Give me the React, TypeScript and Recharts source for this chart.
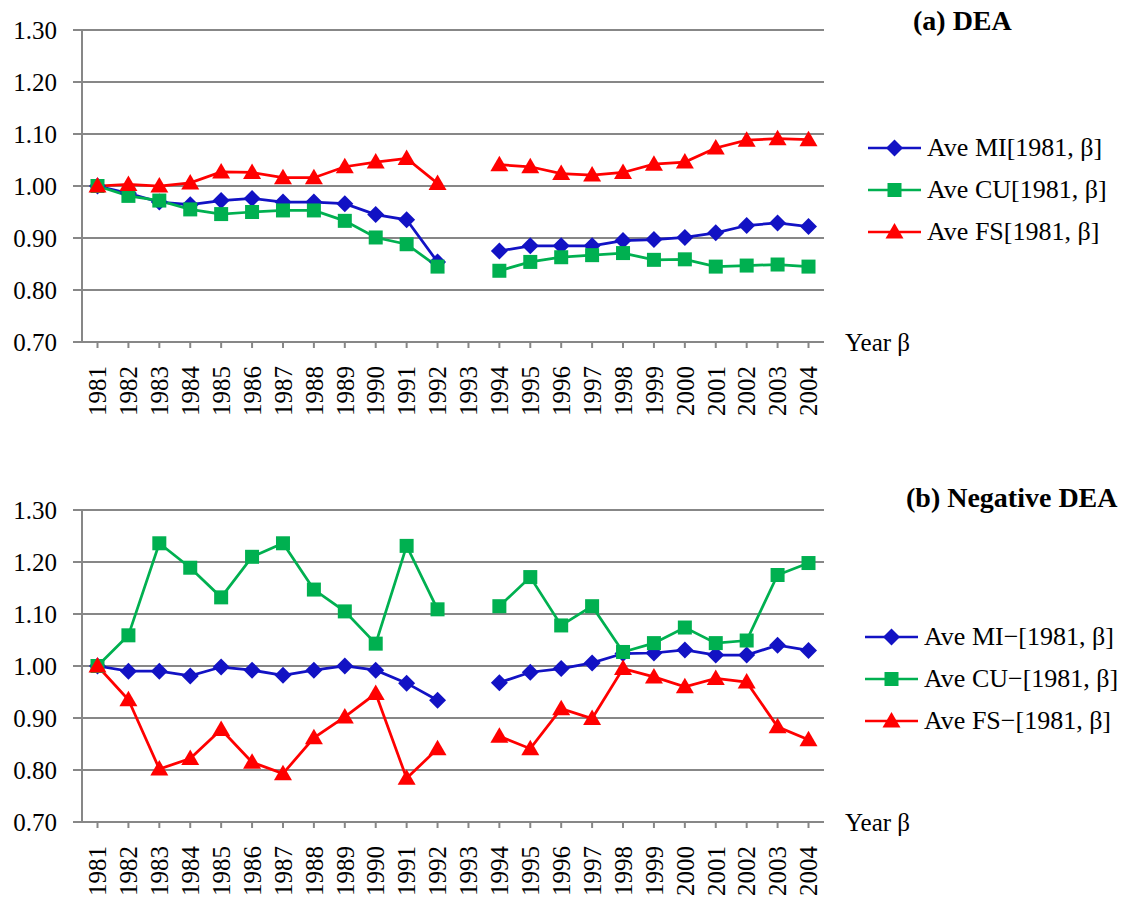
import React from "react";
import { LineChart, Line, XAxis, YAxis, CartesianGrid, Legend } from "recharts";

const FONT = '"Liberation Serif"';
const GRID = "#878787";
const BLUE = "#1212C4";
const GREEN = "#00B050";
const RED = "#FF0000";

const years = [
  "1981", "1982", "1983", "1984", "1985", "1986", "1987", "1988",
  "1989", "1990", "1991", "1992", "1993", "1994", "1995", "1996",
  "1997", "1998", "1999", "2000", "2001", "2002", "2003", "2004",
];
const yTicks = [0.7, 0.8, 0.9, 1.0, 1.1, 1.2, 1.3];

// (a) DEA — no observation for 1993
const deaMI = [
  1.0, 0.986, 0.969, 0.964, 0.972, 0.976, 0.969, 0.969, 0.966, 0.945, 0.935, 0.854,
  null, 0.875, 0.885, 0.885, 0.885, 0.895, 0.897, 0.901, 0.91, 0.924, 0.929, 0.922,
];
const deaCU = [
  1.0, 0.981, 0.972, 0.955, 0.946, 0.95, 0.953, 0.953, 0.933, 0.901, 0.888, 0.845,
  null, 0.837, 0.854, 0.863, 0.867, 0.871, 0.858, 0.859, 0.845, 0.847, 0.849, 0.845,
];
const deaFS = [
  1.0, 1.003, 1.0, 1.006, 1.027, 1.026, 1.016, 1.016, 1.037, 1.046, 1.053, 1.005,
  null, 1.041, 1.037, 1.024, 1.021, 1.026, 1.042, 1.046, 1.073, 1.088, 1.091, 1.089,
];

// (b) Negative DEA
const negMI = [
  1.0, 0.99, 0.99, 0.981, 0.998, 0.992, 0.982, 0.992, 1.0, 0.992, 0.967, 0.934,
  null, 0.968, 0.988, 0.995, 1.006, 1.024, 1.025, 1.031, 1.021, 1.021, 1.04, 1.03,
];
const negCU = [
  1.0, 1.059, 1.236, 1.189, 1.132, 1.21, 1.236, 1.147, 1.105, 1.043, 1.231, 1.109,
  null, 1.115, 1.171, 1.078, 1.115, 1.027, 1.044, 1.074, 1.044, 1.049, 1.175, 1.198,
];
const negFS = [
  1.0, 0.935, 0.802, 0.822, 0.878, 0.815, 0.793, 0.862, 0.902, 0.947, 0.784, 0.841,
  null, 0.865, 0.841, 0.918, 0.899, 0.995, 0.979, 0.96, 0.976, 0.969, 0.883, 0.858,
];

const deaNames = ["Ave MI[1981, β]", "Ave CU[1981, β]", "Ave FS[1981, β]"];
const negNames = ["Ave MI−[1981, β]", "Ave CU−[1981, β]", "Ave FS−[1981, β]"];

type Kind = "diamond" | "square" | "triangle";
const seriesOrder = ["mi", "cu", "fs"];
const kinds: Record<string, Kind> = { mi: "diamond", cu: "square", fs: "triangle" };

function Marker({ cx, cy, kind, color }: { cx?: number; cy?: number; kind: Kind; color: string }) {
  if (cx == null || cy == null || Number.isNaN(cx) || Number.isNaN(cy)) return null;
  if (kind === "diamond") {
    return <polygon points={`${cx},${cy - 8.5} ${cx + 8.5},${cy} ${cx},${cy + 8.5} ${cx - 8.5},${cy}`} fill={color} />;
  }
  if (kind === "square") {
    return <rect x={cx - 7} y={cy - 7} width={14} height={14} fill={color} />;
  }
  return <polygon points={`${cx},${cy - 9} ${cx + 9},${cy + 6.5} ${cx - 9},${cy + 6.5}`} fill={color} />;
}

const renderDot = (kind: Kind, color: string) => (p: any) => (
  <g key={`${kind}-${p.index}`}>
    <Marker cx={p.cx} cy={p.value == null ? undefined : p.cy} kind={kind} color={color} />
  </g>
);

function YearTick({ x, y, payload }: any) {
  return (
    <text
      x={x}
      y={y}
      dy="0.35em"
      textAnchor="end"
      transform={`rotate(-90, ${x}, ${y})`}
      fill="#000"
      fontSize={25}
      fontFamily={FONT}
    >
      {payload.value}
    </text>
  );
}

function LegendBox({ payload }: any) {
  const items = [...(payload || [])].sort(
    (a: any, b: any) => seriesOrder.indexOf(a.dataKey) - seriesOrder.indexOf(b.dataKey)
  );
  return (
    <div style={{ fontFamily: FONT, fontSize: 26, color: "#000" }}>
      {items.map((item: any) => (
        <div key={item.dataKey} style={{ display: "flex", alignItems: "center", height: 42 }}>
          <svg width={59} height={20} style={{ flex: "none" }}>
            <line x1={0} y1={10} x2={53} y2={10} stroke={item.color} strokeWidth={2.5} />
            <Marker cx={26.5} cy={10} kind={kinds[item.dataKey]} color={item.color} />
          </svg>
          <span style={{ whiteSpace: "nowrap", lineHeight: "30px" }}>{item.value}</span>
        </div>
      ))}
    </div>
  );
}

function Panel({
  title,
  titleLeft,
  titleTop,
  mi,
  cu,
  fs,
  names,
  legendLeft,
  legendTop,
}: {
  title: string;
  titleLeft: number;
  titleTop: number;
  mi: (number | null)[];
  cu: (number | null)[];
  fs: (number | null)[];
  names: string[];
  legendLeft: number;
  legendTop: number;
}) {
  const rows = years.map((year, i) => ({ year, mi: mi[i], cu: cu[i], fs: fs[i] }));
  return (
    <div style={{ position: "relative", width: 1137, height: 480 }}>
      <LineChart width={1137} height={432} data={rows} margin={{ top: 30, right: 313, bottom: 0, left: 0 }}>
        <CartesianGrid horizontal vertical={false} stroke={GRID} strokeWidth={2} />
        <XAxis
          dataKey="year"
          interval={0}
          height={90}
          padding={{ left: 15.5, right: 15.5 }}
          tickSize={6}
          tickMargin={18}
          tick={<YearTick />}
          axisLine={{ stroke: GRID, strokeWidth: 2 }}
          tickLine={{ stroke: GRID, strokeWidth: 2 }}
        />
        <YAxis
          domain={[0.7, 1.3]}
          ticks={yTicks}
          allowDataOverflow
          width={82}
          tickSize={9}
          tickMargin={16}
          tickFormatter={(v: number) => v.toFixed(2)}
          tick={{ fill: "#000", fontSize: 25, fontFamily: FONT }}
          axisLine={{ stroke: GRID, strokeWidth: 2 }}
          tickLine={{ stroke: GRID, strokeWidth: 2 }}
        />
        <YAxis
          yAxisId="frame"
          orientation="right"
          width={0}
          tick={false}
          tickLine={false}
          axisLine={{ stroke: GRID, strokeWidth: 2 }}
        />
        <Legend
          layout="vertical"
          align="center"
          verticalAlign="middle"
          wrapperStyle={{ left: legendLeft, top: legendTop, width: 280 }}
          content={<LegendBox />}
        />
        <Line dataKey="mi" name={names[0]} stroke={BLUE} strokeWidth={2.75} dot={renderDot("diamond", BLUE)} activeDot={false} isAnimationActive={false} />
        <Line dataKey="cu" name={names[1]} stroke={GREEN} strokeWidth={2.75} dot={renderDot("square", GREEN)} activeDot={false} isAnimationActive={false} />
        <Line dataKey="fs" name={names[2]} stroke={RED} strokeWidth={2.75} dot={renderDot("triangle", RED)} activeDot={false} isAnimationActive={false} />
      </LineChart>
      <div
        style={{
          position: "absolute",
          left: titleLeft,
          top: titleTop,
          fontFamily: FONT,
          fontSize: 28,
          fontWeight: "bold",
          lineHeight: "30px",
          whiteSpace: "nowrap",
        }}
      >
        {title}
      </div>
      <div
        style={{
          position: "absolute",
          left: 845,
          top: 328,
          fontFamily: FONT,
          fontSize: 25,
          lineHeight: "30px",
          whiteSpace: "nowrap",
        }}
      >
        Year β
      </div>
    </div>
  );
}

export default function App() {
  return (
    <div
      style={{
        position: "absolute",
        left: 0,
        top: 0,
        width: 1137,
        height: 904,
        overflow: "hidden",
        background: "#fff",
      }}
    >
      <Panel title="(a) DEA" titleLeft={913} titleTop={6} mi={deaMI} cu={deaCU} fs={deaFS} names={deaNames} legendLeft={868} legendTop={127} />
      <Panel title="(b) Negative DEA" titleLeft={906} titleTop={3} mi={negMI} cu={negCU} fs={negFS} names={negNames} legendLeft={865} legendTop={136} />
    </div>
  );
}
